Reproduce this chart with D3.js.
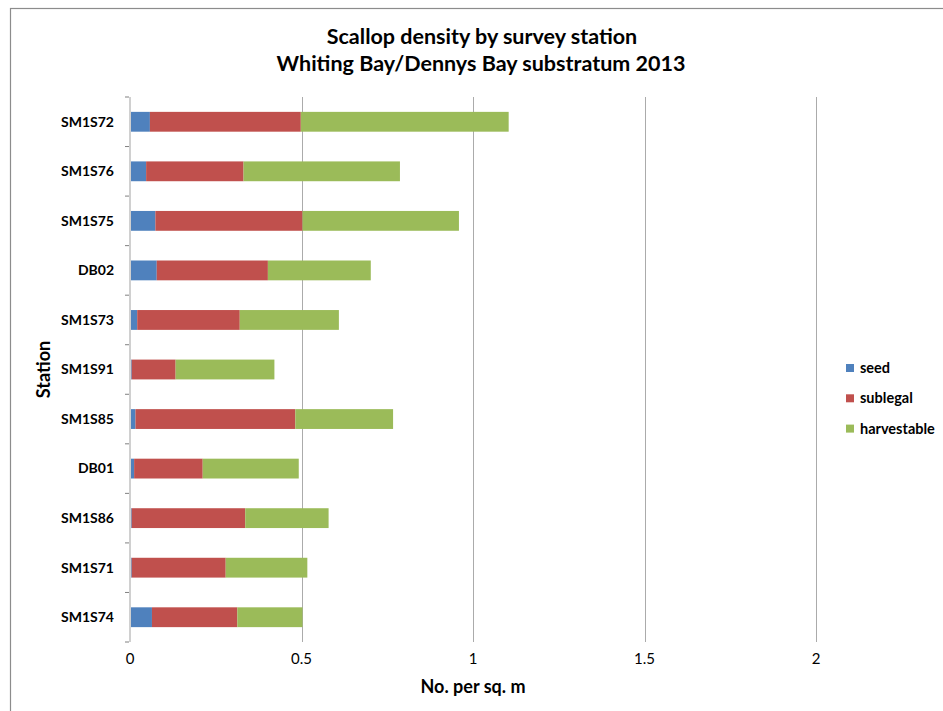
<!DOCTYPE html>
<html>
<head>
<meta charset="utf-8">
<script src="https://cdn.jsdelivr.net/npm/d3@7"></script>
<style>
  html, body { margin: 0; padding: 0; background: #fff; }
  svg { display: block; font-family: Lato, "Open Sans", "Noto Sans", sans-serif; }
</style>
</head>
<body>
<svg id="chart" width="943" height="711"></svg>
<script>
// Stations, listed top to bottom
const stations = ["SM1S72", "SM1S76", "SM1S75", "DB02", "SM1S73", "SM1S91",
                  "SM1S85", "DB01", "SM1S86", "SM1S71", "SM1S74"];
// Density components (No. per sq. m)
const seed        = [0.058, 0.047, 0.074, 0.078, 0.021, 0.005, 0.016, 0.012, 0.005, 0.005, 0.064];
const sublegal    = [0.440, 0.284, 0.429, 0.324, 0.299, 0.128, 0.466, 0.200, 0.331, 0.274, 0.249];
const harvestable = [0.606, 0.456, 0.456, 0.300, 0.289, 0.288, 0.285, 0.280, 0.243, 0.238, 0.190];
const seriesNames = ["seed", "sublegal", "harvestable"];
const seriesColors = ["#4F81BD", "#C0504D", "#9BBB59"];
const xTicks = [0, 0.5, 1, 1.5, 2];
const xTickLabels = ["0", "0.5", "1", "1.5", "2"];

const svg = d3.select("#chart");
const plot = { left: 130, right: 816, top: 97, bottom: 642 };

// Outer chart frame
svg.append("rect")
  .attr("x", 10.5).attr("y", 8.5)
  .attr("width", 960).attr("height", 740)
  .attr("fill", "none").attr("stroke", "#8c8c8c").attr("stroke-width", 1.2);

// Title
const title = svg.append("text")
  .attr("text-anchor", "middle")
  .attr("font-weight", "bold").attr("font-size", 21.5).attr("fill", "#000");
title.append("tspan").attr("x", 482).attr("y", 44).text("Scallop density by survey station");
title.append("tspan").attr("x", 481).attr("y", 71).text("Whiting Bay/Dennys Bay substratum 2013");

const x = d3.scaleLinear().domain([0, 2]).range([plot.left, plot.right]);
const y = d3.scaleBand().domain(stations)
  .range([plot.top, plot.bottom]).paddingInner(0.6).paddingOuter(0.3);

// Vertical gridlines
svg.append("g").selectAll("line")
  .data(xTicks.filter(d => d > 0))
  .join("line")
  .attr("x1", d => Math.round(x(d)) + 0.5).attr("x2", d => Math.round(x(d)) + 0.5)
  .attr("y1", plot.top).attr("y2", plot.bottom)
  .attr("stroke", "#ababab").attr("stroke-width", 1);

// Stacked bars
const rows = stations.map((s, i) => ({ station: s, seed: seed[i], sublegal: sublegal[i], harvestable: harvestable[i] }));
const stack = d3.stack().keys(seriesNames)(rows);
svg.append("g").selectAll("g")
  .data(stack)
  .join("g")
  .attr("fill", (d, i) => seriesColors[i])
  .selectAll("rect")
  .data(d => d)
  .join("rect")
  .attr("x", d => x(d[0]))
  .attr("width", d => Math.max(0, x(d[1]) - x(d[0])))
  .attr("y", d => y(d.data.station))
  .attr("height", y.bandwidth());

// Category axis line
svg.append("line")
  .attr("x1", plot.left).attr("x2", plot.left)
  .attr("y1", plot.top).attr("y2", plot.bottom)
  .attr("stroke", "#d0d0d0").attr("stroke-width", 2);

// Category tick marks at band boundaries
const step = y.step();
svg.append("g").selectAll("line")
  .data(d3.range(stations.length + 1))
  .join("line")
  .attr("x1", plot.left - 5).attr("x2", plot.left - 1)
  .attr("y1", i => plot.top + i * step).attr("y2", i => plot.top + i * step)
  .attr("stroke", "#808080").attr("stroke-width", 1);

// Station labels
svg.append("g").selectAll("text")
  .data(stations)
  .join("text")
  .attr("x", 114)
  .attr("y", d => y(d) + y.bandwidth() / 2)
  .attr("dy", "0.35em")
  .attr("text-anchor", "end")
  .attr("font-weight", "bold").attr("font-size", 14).attr("fill", "#000")
  .text(d => d);

// Value axis labels
svg.append("g").selectAll("text")
  .data(xTicks)
  .join("text")
  .attr("x", d => x(d))
  .attr("y", 664)
  .attr("text-anchor", "middle")
  .attr("font-size", 15).attr("fill", "#000")
  .text((d, i) => xTickLabels[i]);

// Axis titles
svg.append("text")
  .attr("x", (plot.left + plot.right) / 2).attr("y", 693)
  .attr("text-anchor", "middle")
  .attr("font-weight", "bold").attr("font-size", 18).attr("fill", "#000")
  .text("No. per sq. m");

svg.append("text")
  .attr("transform", `translate(50, ${(plot.top + plot.bottom) / 2}) rotate(-90)`)
  .attr("text-anchor", "middle")
  .attr("font-weight", "bold").attr("font-size", 18).attr("fill", "#000")
  .text("Station");

// Legend
const legend = svg.append("g").selectAll("g")
  .data(seriesNames)
  .join("g")
  .attr("transform", (d, i) => `translate(846, ${368 + i * 30.3})`);
legend.append("rect")
  .attr("x", 0).attr("y", -4).attr("width", 8).attr("height", 8)
  .attr("fill", (d, i) => seriesColors[i]);
legend.append("text")
  .attr("x", 14).attr("dy", "0.35em")
  .attr("font-weight", "bold").attr("font-size", 14.5).attr("fill", "#000")
  .text(d => d);
</script>
</body>
</html>
